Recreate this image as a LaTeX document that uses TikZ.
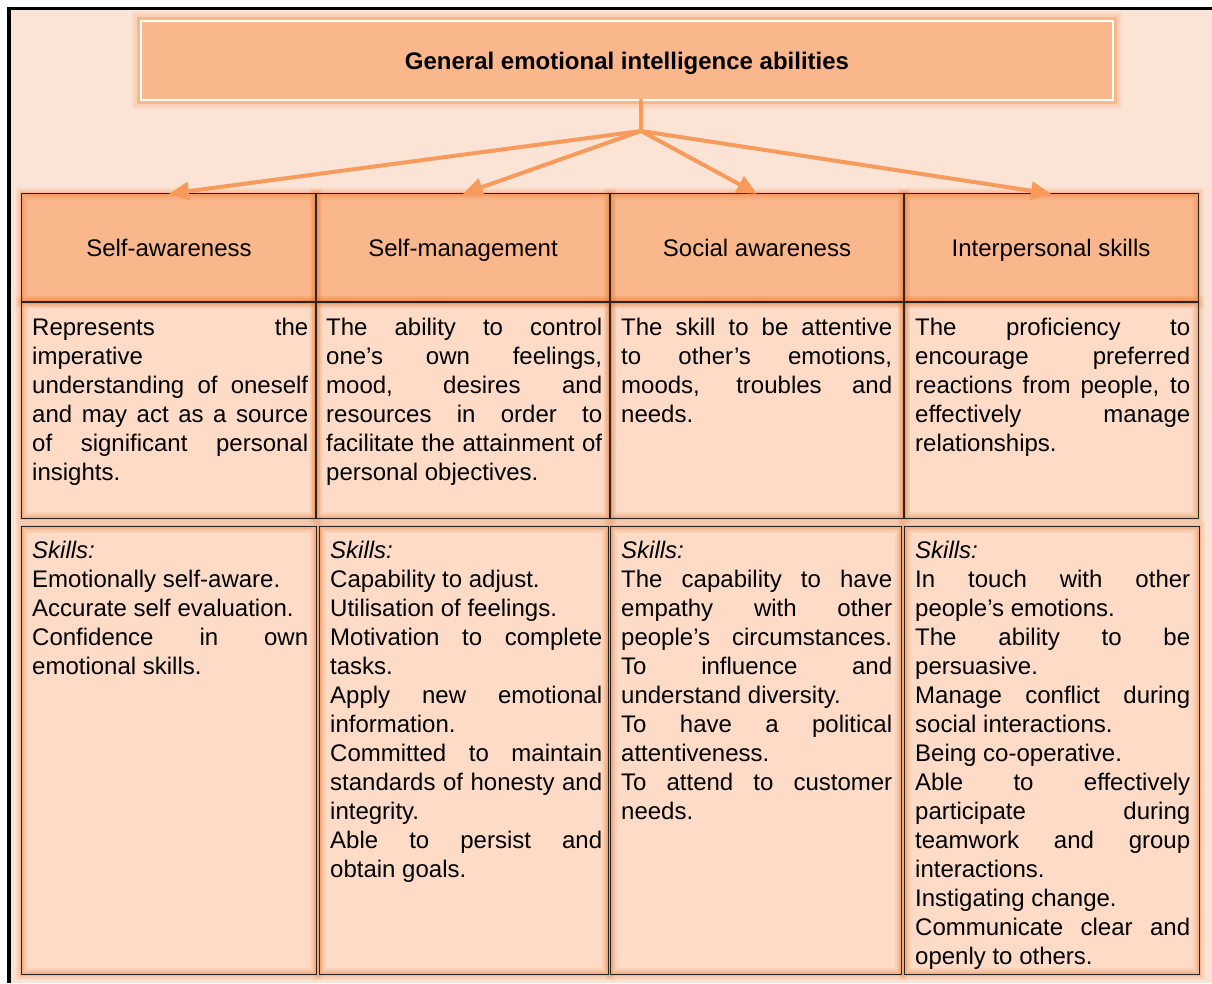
\documentclass[tikz,border=0pt]{standalone}
\usepackage{fontspec}
\setmainfont{Liberation Sans}
\usetikzlibrary{arrows.meta}
\definecolor{pagebg}{HTML}{FBE4D5}
\definecolor{hdrfill}{HTML}{FBB78C}
\definecolor{cellfill}{HTML}{FDDBC6}
\definecolor{arrowc}{HTML}{F89A5C}
\definecolor{glowc}{HTML}{EC7A32}
\newcommand\cellfont{\fontsize{24}{29}\selectfont}
\newcommand\jline[1]{\hbox to\hsize{\vrule height20pt depth9pt width0pt #1}}
\newcommand\lline[1]{\hbox to\hsize{\vrule height20pt depth9pt width0pt #1\hfil}}
\newcommand\cellbox[2]{\vbox{\hsize=#1\cellfont\offinterlineskip #2}}
\tikzset{
  hdr/.style={fill=hdrfill, inner sep=0pt, minimum width=294pt, minimum height=108pt,
    font=\cellfont, text height=17pt, text depth=0pt},
  desc/.style={fill=cellfill, inner sep=0pt, minimum width=294pt, minimum height=216pt},
  skl/.style={fill=cellfill, inner sep=0pt, minimum height=447pt},
  txt/.style={anchor=north west, inner sep=0pt},
  conn/.style={draw=arrowc, line width=4pt},
  arr/.style={conn, -{Triangle[length=20pt,width=18pt]}},
  border/.style={draw=black!85, line width=1pt},
}
\begin{document}
\begin{tikzpicture}[x=1pt,y=-1pt]
\useasboundingbox (0,0) rectangle (1212,983);
\fill[white] (0,0) rectangle (1212,983);
\fill[pagebg] (9,8) rectangle (1212,983);
\fill[black] (7,7) rectangle (11,983);
\fill[black] (7,7) rectangle (1212,10);

% title box
\node[fill=hdrfill, draw=white, line width=1.5pt, minimum width=972pt, minimum height=79pt,
  inner sep=0pt, font=\cellfont\bfseries, text height=17pt, text depth=0pt,
  preaction={draw=glowc, line width=18pt, opacity=0.08},
  preaction={draw=glowc, line width=14pt, opacity=0.10},
  preaction={draw=hdrfill, line width=8pt}]
  (title) at (627,60.5) {General emotional intelligence abilities};

% header cells
\node[hdr] (h1) at (169,248) {Self-awareness};
\node[hdr] (h2) at (463,248) {Self-management};
\node[hdr] (h3) at (757,248) {Social awareness};
\node[hdr] (h4) at (1051,248) {Interpersonal skills};
% description cells
\node[desc] (d1) at (169,410) {};
\node[desc] (d2) at (463,410) {};
\node[desc] (d3) at (757,410) {};
\node[desc] (d4) at (1051,410) {};
% skills cells
\node[skl, minimum width=294pt] (s1) at (169,750.5) {};
\node[skl, minimum width=288pt] (s2) at (464,750.5) {};
\node[skl, minimum width=290pt] (s3) at (756,750.5) {};
\node[skl, minimum width=294pt] (s4) at (1052,750.5) {};

% glow
\foreach \n in {h1,h2,h3,h4,d1,d2,d3,d4,s1,s2,s3,s4}{
  \foreach \w/\o in {12/0.10, 8/0.14, 4/0.22}{
    \draw[glowc, line width=\w pt, opacity=\o] (\n.north west) rectangle (\n.south east);
  }
}
% borders
\foreach \n in {h1,h2,h3,h4,d1,d2,d3,d4,s1,s2,s3,s4}{
  \draw[border] (\n.north west) rectangle (\n.south east);
}

% description texts
\node[txt] (t1) at (32,315) {\cellbox{276pt}{%
\jline{Represents the}
\lline{imperative}
\jline{understanding of oneself}
\jline{and may act as a source}
\jline{of significant personal}
\lline{insights.}}};
\node[txt] (t2) at (326,315) {\cellbox{276pt}{%
\jline{The ability to control}
\jline{one’s own feelings,}
\jline{mood, desires and}
\jline{resources in order to}
\jline{facilitate the attainment of}
\lline{personal objectives.}}};
\node[txt] (t3) at (621,315) {\cellbox{271pt}{%
\jline{The skill to be attentive}
\jline{to other’s emotions,}
\jline{moods, troubles and}
\lline{needs.}}};
\node[txt] (t4) at (915,315) {\cellbox{275pt}{%
\jline{The proficiency to}
\jline{encourage preferred}
\jline{reactions from people, to}
\jline{effectively manage}
\lline{relationships.}}};

% skills texts
\node[txt] (k1) at (32,538) {\cellbox{276pt}{%
\lline{\itshape Skills:}
\lline{Emotionally self-aware.}
\lline{Accurate self evaluation.}
\jline{Confidence in own}
\lline{emotional skills.}}};
\node[txt] (k2) at (330,538) {\cellbox{272pt}{%
\lline{\itshape Skills:}
\lline{Capability to adjust.}
\lline{Utilisation of feelings.}
\jline{Motivation to complete}
\lline{tasks.}
\jline{Apply new emotional}
\lline{information.}
\jline{Committed to maintain}
\jline{standards of honesty and}
\lline{integrity.}
\jline{Able to persist and}
\lline{obtain goals.}}};
\node[txt] (k3) at (621,538) {\cellbox{271pt}{%
\lline{\itshape Skills:}
\jline{The capability to have}
\jline{empathy with other}
\jline{people’s circumstances.}
\jline{To influence and}
\lline{understand diversity.}
\jline{To have a political}
\lline{attentiveness.}
\jline{To attend to customer}
\lline{needs.}}};
\node[txt] (k4) at (915,538) {\cellbox{275pt}{%
\lline{\itshape Skills:}
\jline{In touch with other}
\lline{people’s emotions.}
\jline{The ability to be}
\lline{persuasive.}
\jline{Manage conflict during}
\lline{social interactions.}
\lline{Being co-operative.}
\jline{Able to effectively}
\jline{participate during}
\jline{teamwork and group}
\lline{interactions.}
\lline{Instigating change.}
\jline{Communicate clear and}
\lline{openly to others.}}};

% connectors
\coordinate (hub) at (641,131);
\draw[conn, line cap=round] (title.south -| hub) -- (hub);
\draw[arr] (hub) -- (h1.north);
\draw[arr] (hub) -- (h2.north);
\draw[arr] (hub) -- (h3.north);
\draw[arr] (hub) -- (h4.north);
\end{tikzpicture}
\end{document}
